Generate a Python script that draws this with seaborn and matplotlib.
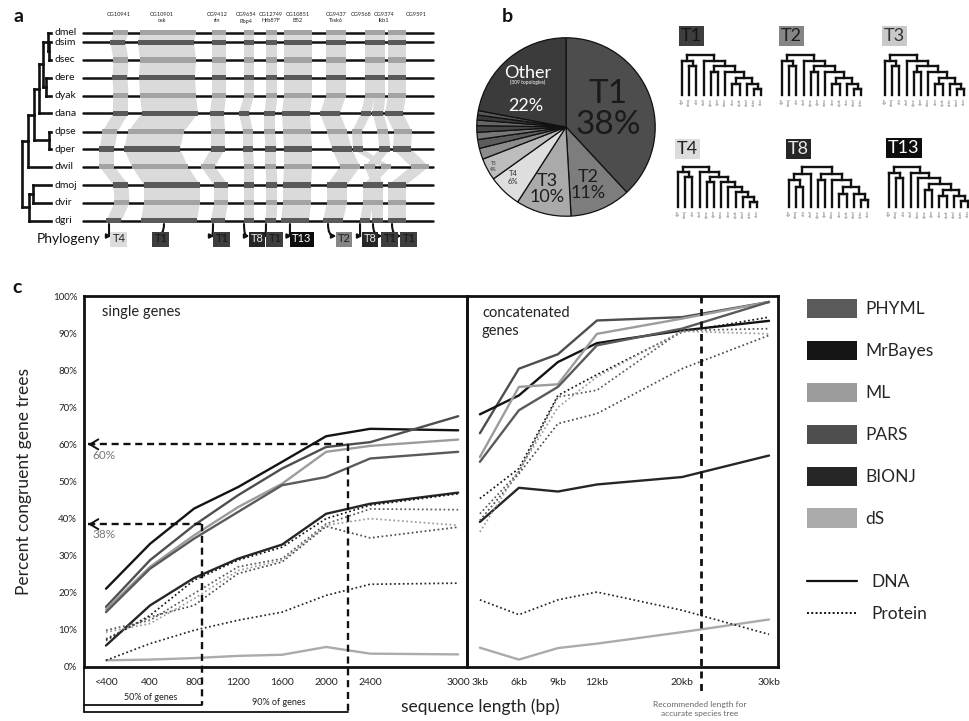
import numpy as np
import pandas as pd
import matplotlib
matplotlib.use("Agg")
import matplotlib.pyplot as plt
import seaborn as sns
from matplotlib.patches import Polygon, Rectangle, Patch
from matplotlib.lines import Line2D

sns.set_theme(style="white")
plt.rcParams["font.family"] = ["Lato", "DejaVu Sans"]

# ---------------- panel a: gene order across twelve genomes ----------------
species = ["dmel", "dsim", "dsec", "dere", "dyak", "dana",
           "dpse", "dper", "dwil", "dmoj", "dvir", "dgri"]
genes = ["CG10941", "CG10901", "CG9412", "CG9654", "CG12749",
         "CG10851", "CG9437", "CG9568", "CG9374", "CG9591"]
gene_alias = ["", "osk", "rin", "Rbp4", "Hrb87F", "B52", "Tssk6", "", "lkb1", ""]
gene_topology = ["T4", "T1", "T1", "T8", "T1", "T13", "T2", "T8", "T1", "T1"]
gene_width = [15, 56, 14, 10, 11, 28, 20, 10, 11, 18]
gene_centers = {  # map units, one value per species in the order above
    "CG10941": [121, 118, 121, 120, 121, 121, 110, 107, 107, 121, 122, 114],
    "CG10901": [168, 166, 168, 167, 168, 170, 156, 152, 160, 172, 172, 169],
    "CG9412":  [219, 219, 219, 219, 219, 217, 218, 218, 208, 221, 221, 218],
    "CG9654":  [249, 249, 249, 249, 249, 244, 248, 248, 249, 249, 249, 249],
    "CG12749": [272, 272, 272, 272, 272, 270, 270, 271, 271, 272, 272, 271],
    "CG10851": [298, 298, 298, 298, 298, 296, 297, 298, 298, 297, 297, 295],
    "CG9437":  [336, 336, 336, 336, 336, 330, 337, 342, 350, 337, 337, 333],
    "CG9568":  [370, 370, 370, 370, 370, 366, 357, 358, 386, 368, 368, 365],
    "CG9374":  [380, 380, 380, 380, 380, 378, 383, 385, 370, 378, 378, 378],
    "CG9591":  [397, 397, 397, 397, 397, 394, 403, 402, 420, 397, 397, 397],
}
# species tree: (node depth, child, child)
phylo = (22, (28, (34, (39.5, (43, (48, "dmel", (49.5, "dsim", "dsec")),
                                (46, "dere", "dyak")), "dana"),
                   (49, "dpse", "dper")), "dwil"),
         (29.5, (33.5, "dmoj", "dvir"), "dgri"))

# ---------------- panel b: topology frequencies ----------------
pie_names = ["T1", "T2", "T3", "T4", "T5", "t6", "t7", "t8", "t9", "t10", "t11", "t12", "Other"]
pie_share = [38, 11, 10, 6, 4, 2.0, 1.6, 1.3, 1.2, 1.0, 0.9, 0.8, 22]
pie_colors = ["#4d4d4d", "#7d7d7d", "#aaaaaa", "#dedede", "#bdbdbd", "#8c8c8c", "#5c5c5c",
              "#787878", "#474747", "#666666", "#3a3a3a", "#575757", "#3b3b3b"]

topologies = {
    "T1": (("dgri", ("dmoj", "dvir")), ("dwil", (("dpse", "dper"), ("dana", (("dere", "dyak"), ("dmel", ("dsim", "dsec"))))))),
    "T2": (("dgri", ("dmoj", "dvir")), ("dwil", (("dpse", "dper"), ("dana", (("dere", "dyak"), ("dsec", ("dmel", "dsim"))))))),
    "T3": (("dgri", ("dmoj", "dvir")), ("dwil", (("dpse", "dper"), ("dana", (("dere", "dyak"), ("dsim", ("dmel", "dsec"))))))),
    "T4": (("dgri", ("dmoj", "dvir")), ("dwil", (("dpse", "dper"), ("dana", ("dere", ("dyak", ("dmel", ("dsim", "dsec")))))))),
    "T8": ((("dgri", ("dmoj", "dvir")), "dwil"), (("dpse", "dper"), ("dana", (("dere", "dyak"), ("dmel", ("dsim", "dsec")))))),
    "T13": (("dgri", ("dmoj", "dvir")), ("dwil", ("dana", (("dpse", "dper"), (("dere", "dyak"), ("dmel", ("dsim", "dsec"))))))),
}
topo_fill = {"T1": "#3e3e3e", "T2": "#858585", "T3": "#c9c9c9", "T4": "#dcdcdc", "T8": "#262626", "T13": "#0d0d0d"}
topo_text = {"T1": "#151515", "T2": "#1e1e1e", "T3": "#333333", "T4": "#222222", "T8": "#e6e6e6", "T13": "#ffffff"}

# ---------------- panel c: congruence vs. sequence length ----------------
single_len = ["<400", "400", "800", "1200", "1600", "2000", "2400", "3000"]
single_bp = [0, 400, 800, 1200, 1600, 2000, 2400, 3000]
concat_len = ["3kb", "6kb", "9kb", "12kb", "20kb", "30kb"]
concat_kb = [3, 6, 9, 12, 20, 30]
methods = ["PHYML", "MrBayes", "ML", "PARS", "BIONJ", "dS"]

single_dna = {
    "MrBayes": [21.1, 33.2, 42.7, 48.5, 55.3, 62.2, 64.2, 63.8],
    "PARS":    [16.2, 28.8, 38.2, 46.3, 53.5, 59.3, 60.6, 67.6],
    "ML":      [15.5, 27.0, 35.5, 43.1, 49.4, 58.0, 59.6, 61.3],
    "PHYML":   [14.8, 26.5, 34.6, 41.8, 49.0, 51.2, 56.2, 58.0],
    "BIONJ":   [5.8, 16.6, 24.0, 29.2, 33.0, 41.3, 44.0, 47.0],
    "dS":      [1.8, 2.0, 2.4, 3.0, 3.3, 5.4, 3.6, 3.4],
}
single_protein = {
    "MrBayes": [7.2, 13.9, 23.4, 28.8, 32.3, 40.0, 43.6, 46.7],
    "PHYML":   [9.9, 12.6, 19.8, 27.0, 29.2, 38.6, 42.6, 42.4],
    "ML":      [9.4, 11.7, 18.4, 26.0, 28.8, 38.2, 40.0, 38.2],
    "PARS":    [7.6, 13.5, 16.6, 25.2, 28.3, 37.9, 34.8, 37.7],
    "BIONJ":   [1.8, 6.3, 9.9, 12.6, 14.8, 19.3, 22.3, 22.6],
}
concat_dna = {
    "PARS":    [63.0, 80.4, 84.3, 93.4, 94.3, 98.4],
    "MrBayes": [68.1, 73.2, 82.2, 87.3, 90.7, 93.3],
    "ML":      [56.6, 75.5, 76.2, 89.8, 93.9, 98.4],
    "PHYML":   [55.3, 69.2, 75.5, 86.7, 91.2, 98.4],
    "BIONJ":   [39.1, 48.3, 47.3, 49.2, 51.2, 57.0],
    "dS":      [5.2, 2.0, 5.1, 6.3, 9.4, 12.8],
}
concat_protein = {
    "MrBayes": [45.4, 53.5, 73.2, 78.8, 90.3, 94.3],
    "PHYML":   [41.3, 52.6, 72.8, 74.6, 90.7, 91.2],
    "PARS":    [39.5, 52.1, 65.6, 68.3, 80.4, 89.4],
    "ML":      [36.4, 53.0, 70.0, 78.2, 90.5, 89.8],
    "BIONJ":   [18.1, 14.1, 18.1, 20.2, 15.3, 8.8],
}
palette = {"PHYML": "#5a5a5a", "MrBayes": "#141414", "ML": "#9c9c9c",
           "PARS": "#4e4e4e", "BIONJ": "#262626", "dS": "#ababab"}
half_genes_bp, most_genes_bp, recommended_kb = 870, 2200, 22.2
guide_low, guide_high = 38.5, 60


def single_pos(bp):
    return np.interp(bp, [0, 2400, 3000], [0, 6, 8])


def concat_pos(kb):
    return np.interp(kb, [3, 12, 20, 30], [0, 3.0, 5.18, 7.41])


# =====================================================================
W, H = 969, 721
fig = plt.figure(figsize=(W / 100, H / 100), dpi=100)
fig.patch.set_facecolor("white")

canvas = fig.add_axes([0, 0, 1, 1], zorder=0)
canvas.set_xlim(0, W)
canvas.set_ylim(H, 0)
canvas.axis("off")


def fa(x0, y0, x1, y1):
    return [x0 / W, 1 - y1 / H, (x1 - x0) / W, (y1 - y0) / H]


# ---- panel a ----
row_y = [32.7, 42.3, 60, 77.7, 95.7, 113.3, 131.7, 149, 166.7, 185, 202.7, 220.7]
y_of = dict(zip(species, row_y))
leaf_x = 51


def draw_phylo(node):
    if isinstance(node, str):
        return leaf_x, y_of[node]
    x, a, b = node
    ax_, ay_ = draw_phylo(a)
    bx_, by_ = draw_phylo(b)
    kw = dict(color="#111111", lw=1.9, solid_capstyle="projecting", zorder=4)
    canvas.plot([x, x], [ay_, by_], **kw)
    canvas.plot([x, ax_], [ay_, ay_], **kw)
    canvas.plot([x, bx_], [by_, by_], **kw)
    return x, (ay_ + by_) / 2


draw_phylo(phylo)

for i, sp in enumerate(species):
    y = row_y[i]
    canvas.plot([83, 433], [y, y], color="#111111", lw=1.8, zorder=2)
    canvas.text(55, y, sp, fontsize=7.5, va="center", ha="left", color="#111111")
    fill = "#a3a3a3" if i % 2 == 0 else "#5a5a5a"
    for g, w in zip(genes, gene_width):
        c = gene_centers[g][i]
        canvas.add_patch(Rectangle((c - w / 2, y - 2.8), w, 5.6, fc=fill, ec="none", zorder=3))
        if i + 1 < len(species):
            c2 = gene_centers[g][i + 1]
            y2 = row_y[i + 1]
            canvas.add_patch(Polygon([(c - w / 2, y), (c + w / 2, y), (c2 + w / 2, y2), (c2 - w / 2, y2)],
                                     closed=True, fc="#dadada", ec="none", zorder=1))

gene_label_x = [119, 162, 217, 246, 271, 298, 336, 361, 384, 416]
topo_label_x = [119, 161, 222, 257, 275, 302, 344, 370, 390, 409]
for g, alias, lx in zip(genes, gene_alias, gene_label_x):
    canvas.text(lx, 14, g, fontsize=4.1, ha="center", va="center", color="#222222")
    if alias:
        canvas.text(lx, 21, alias, fontsize=4.1, ha="center", va="center", color="#222222")

for g, t, tx in zip(genes, gene_topology, topo_label_x):
    gx = gene_centers[g][-1]
    canvas.text(tx, 239, t, fontsize=8, ha="center", va="center", color=topo_text[t],
                bbox=dict(boxstyle="square,pad=0.18", fc=topo_fill[t], ec="none"), zorder=6)
    half = 6.5 if len(t) == 2 else 9
    canvas.annotate("", xy=(tx - half - 1, 236), xytext=(gx - 5, 224),
                    arrowprops=dict(arrowstyle="-|>", connectionstyle="angle3,angleA=90,angleB=0",
                                    lw=1.5, color="#111111", mutation_scale=6,
                                    shrinkA=0, shrinkB=0), zorder=5)
canvas.text(37, 239, "Phylogeny", fontsize=10, va="center", ha="left", color="#111111")

# ---- panel b: pie ----
pax = fig.add_axes(fa(475, 36, 657, 218), zorder=2)
pax.pie(pie_share, colors=pie_colors, startangle=90, counterclock=False, radius=1,
        wedgeprops=dict(linewidth=0.9, edgecolor="#111111"))
pax.set_xlim(-1.02, 1.02)
pax.set_ylim(-1.02, 1.02)
pax.set_aspect("equal")
pax.axis("off")
pax.text(0.47, 0.20, f"{pie_names[0]}\n{pie_share[0]}%", fontsize=24, ha="center", va="center",
         color="#1a1a1a", linespacing=1.05)
pax.text(-0.43, 0.61, pie_names[-1], fontsize=13, ha="center", va="center", color="white")
pax.text(-0.43, 0.50, "(309 topologies)", fontsize=3.5, ha="center", va="center", color="white")
pax.text(-0.45, 0.24, f"{pie_share[-1]:.0f}%", fontsize=13, ha="center", va="center", color="white")
pax.text(0.25, -0.65, f"{pie_names[1]}\n{pie_share[1]}%", fontsize=13, ha="center", va="center",
         color="#1e1e1e", linespacing=1.0)
pax.text(-0.21, -0.69, f"{pie_names[2]}\n{pie_share[2]}%", fontsize=13, ha="center", va="center",
         color="#1e1e1e", linespacing=1.0)
pax.text(-0.59, -0.57, f"{pie_names[3]}\n{pie_share[3]}%", fontsize=5.5, ha="center", va="center",
         color="#333333")
pax.text(-0.81, -0.44, f"{pie_names[4]}\n{pie_share[4]}%", fontsize=3.5, ha="center", va="center",
         color="#333333")


# ---- panel b: topology cladograms ----
def draw_clade(node, depth, state):
    if isinstance(node, str):
        x = state["x0"] + state["n"] * state["dx"]
        state["n"] += 1
        canvas.text(x, state["yl"] + 3, node, fontsize=2.6, rotation=90, ha="center", va="top",
                    color="#666666")
        return x, state["yl"]
    pts = [draw_clade(c, depth + 1, state) for c in node]
    y = state["yr"] + depth * state["dy"]
    kw = dict(color="#111111", lw=1.7, solid_capstyle="projecting", zorder=3)
    canvas.plot([pts[0][0], pts[-1][0]], [y, y], **kw)
    for px, py in pts:
        canvas.plot([px, px], [y, py], **kw)
    return (pts[0][0] + pts[-1][0]) / 2, y


def max_depth(node):
    return 0 if isinstance(node, str) else 1 + max(max_depth(c) for c in node)


tree_slots = {"T1": (682, 36, 55, 95), "T2": (782, 36, 55, 95), "T3": (885, 36, 55, 95),
              "T4": (678, 149, 167, 207), "T8": (789, 149, 167, 207), "T13": (889, 148, 167, 207)}
for name, (x0, ylab, yr, yl) in tree_slots.items():
    tree = topologies[name]
    state = dict(x0=x0, n=0, dx=7.2, yr=yr, yl=yl, dy=(yl - yr) / max_depth(tree))
    draw_clade(tree, 0, state)
    canvas.text(x0 - 1, ylab, name, fontsize=13, ha="left", va="center", color=topo_text[name],
                bbox=dict(boxstyle="square,pad=0.12", fc=topo_fill[name], ec="none"))

# ---- panel c ----
records = []
for panel, lengths, to_pos, tables in (
        ("single", single_bp, single_pos, (("DNA", single_dna), ("Protein", single_protein))),
        ("concat", concat_kb, concat_pos, (("DNA", concat_dna), ("Protein", concat_protein)))):
    for seq, table in tables:
        for m, vals in table.items():
            for L, v in zip(lengths, vals):
                records.append(dict(panel=panel, seq=seq, method=m, pos=float(to_pos(L)), pct=v))
df = pd.DataFrame(records)

ax1 = fig.add_axes(fa(84, 296, 467, 667), zorder=2)
ax2 = fig.add_axes(fa(467, 296, 778, 667), zorder=2)
for ax, panel in ((ax1, "single"), (ax2, "concat")):
    ax.set_facecolor("none")
    sub = df[df.panel == panel]
    for (seq, m), g in sub.groupby(["seq", "method"], sort=False):
        if seq == "DNA":
            sns.lineplot(data=g, x="pos", y="pct", ax=ax, color=palette[m], lw=1.7,
                         estimator=None, sort=False, legend=False)
        else:
            sns.lineplot(data=g, x="pos", y="pct", ax=ax, color=palette[m], lw=1.25,
                         linestyle=(0, (1, 1.5)), estimator=None, sort=False, legend=False)
    ax.set_ylim(0, 100)
    ax.set_yticks(range(0, 101, 10))
    ax.set_xlabel("")
    ax.set_ylabel("")
    for s in ax.spines.values():
        s.set_visible(True)
        s.set_linewidth(2.0)
        s.set_color("#111111")
    ax.tick_params(axis="both", direction="inout", length=6, width=1.4, color="#111111",
                   labelsize=7.5, labelcolor="#222222", pad=5)

ax1.set_xlim(-0.5, 8.2)
ax1.set_xticks(single_pos(single_bp))
ax1.set_xticklabels(single_len)
ax1.set_yticklabels([f"{v}%" for v in range(0, 101, 10)])
ax1.tick_params(axis="y", pad=2, labelsize=7)
ax1.set_ylabel("Percent congruent gene trees", fontsize=12.5, color="#222222")
ax1.yaxis.set_label_coords(-0.135, 0.5)

ax2.set_xlim(-0.33, 7.64)
ax2.set_xticks(concat_pos(concat_kb))
ax2.set_xticklabels(concat_len)
ax2.tick_params(axis="y", labelleft=False)

dash = dict(color="#111111", lw=1.7, ls=(0, (3, 2)), clip_on=False, zorder=5)
x_half, x_most = float(single_pos(half_genes_bp)), float(single_pos(most_genes_bp))
ax1.plot([-0.42, x_most], [guide_high, guide_high], **dash)
ax1.plot([-0.42, x_half], [guide_low, guide_low], **dash)
ax1.plot([x_most, x_most], [guide_high, -12.1], **dash)
ax1.plot([x_half, x_half], [guide_low, -10.2], **dash)
for yv in (guide_high, guide_low):
    ax1.annotate("", xy=(-0.47, yv), xytext=(-0.2, yv),
                 arrowprops=dict(arrowstyle="->,head_length=0.5,head_width=0.3", lw=1.4, color="#111111"))
solid = dict(color="#111111", lw=1.3, clip_on=False)
ax1.plot([-0.5, x_half], [-10.2, -10.2], **solid)
ax1.plot([-0.5, x_most], [-12.1, -12.1], **solid)
ax1.plot([-0.5, -0.5], [0, -12.1], **solid)
ax1.text(-0.3, 57.0, f"{guide_high}%", fontsize=8.5, color="#777777", va="center", ha="left")
ax1.text(-0.3, 35.8, f"{guide_low:.0f}%", fontsize=8.5, color="#777777", va="center", ha="left")
ax1.text(float(single_pos(409)), -8.1, "50% of genes", fontsize=6.5, ha="center", va="center", color="#222222")
ax1.text(3.93, -9.7, "90% of genes", fontsize=6.5, ha="center", va="center", color="#222222")
ax1.text(0.047, 0.958, "single genes", transform=ax1.transAxes, fontsize=10.5, va="center",
         ha="left", color="#222222")

x_rec = float(concat_pos(recommended_kb))
ax2.plot([x_rec, x_rec], [100, -7.0], color="#111111", lw=2.0, ls=(0, (2.5, 2)), clip_on=False, zorder=5)
ax2.text(0.048, 0.93, "concatenated\ngenes", transform=ax2.transAxes, fontsize=10.5, va="center",
         ha="left", color="#222222", linespacing=1.3)

fig.text(480 / W, 1 - 707 / H, "sequence length (bp)", fontsize=12.5, ha="center", va="center", color="#222222")
fig.text(700 / W, 1 - 709 / H, "Recommended length for\naccurate species tree", fontsize=6,
         ha="center", va="center", color="#666666", linespacing=1.25)

# legends
method_handles = [Patch(facecolor=palette[m], edgecolor="none", label=m) for m in methods]
fig.legend(handles=method_handles, loc="upper left", bbox_to_anchor=(807 / W, 1 - 299 / H),
           frameon=False, fontsize=12.5, handlelength=2.9, handleheight=1.32,
           handletextpad=0.45, labelspacing=1.31, borderpad=0, borderaxespad=0)
seq_handles = [Line2D([], [], color="#111111", lw=1.6, label="DNA"),
               Line2D([], [], color="#111111", lw=1.4, ls=(0, (1, 1.2)), label="Protein")]
fig.legend(handles=seq_handles, loc="upper left", bbox_to_anchor=(807 / W, 1 - 574 / H),
           frameon=False, fontsize=12.5, handlelength=2.9, handletextpad=0.8,
           labelspacing=0.9, borderpad=0, borderaxespad=0)

# panel letters
for letter, (x, y) in {"a": (14, 16), "b": (502, 16), "c": (12, 287)}.items():
    fig.text(x / W, 1 - y / H, letter, fontsize=14, fontweight="bold", ha="left", va="center",
             color="#111111")

fig.savefig("out.png", dpi=100, facecolor="white")
